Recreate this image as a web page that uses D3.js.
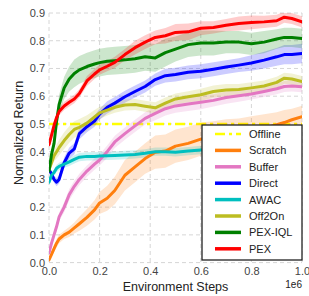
<!DOCTYPE html>
<html>
<head>
  <meta charset="utf-8">
  <title>normalized return</title>
  <script src="https://d3js.org/d3.v7.min.js"></script>
  <style>
    body { margin: 0; background: white; }
    svg { display: block; font-family: "Liberation Sans", Arial, sans-serif; }
    .grid line { stroke: #d6d6d6; stroke-width: 1; stroke-dasharray: 4,3; }
    .tick text { fill: #444; font-size: 11px; }
  </style>
</head>
<body>
<svg width="309" height="296"></svg>
<script>
// environment steps (x1e6)
var steps = [0, 0.01, 0.02, 0.03, 0.04, 0.06, 0.08, 0.1, 0.12, 0.15, 0.18, 0.2, 0.23, 0.26, 0.3,
  0.34, 0.38, 0.42, 0.46, 0.5, 0.55, 0.6, 0.65, 0.7, 0.75, 0.8, 0.85, 0.9, 0.93, 0.96, 1.0];

var offline = 0.5;

var scratch = [0.01, 0.03, 0.05, 0.07, 0.085, 0.1, 0.11, 0.125, 0.14, 0.163, 0.19, 0.215, 0.232, 0.26, 0.315,
  0.345, 0.375, 0.398, 0.402, 0.42, 0.43, 0.445, 0.455, 0.462, 0.47, 0.478, 0.485, 0.497, 0.505, 0.515, 0.526];
var scratchStd = [0.005, 0.01, 0.012, 0.015, 0.015, 0.015, 0.018, 0.02, 0.025, 0.03, 0.035, 0.04, 0.045, 0.05, 0.055,
  0.055, 0.055, 0.06, 0.06, 0.06, 0.06, 0.06, 0.055, 0.055, 0.05, 0.05, 0.05, 0.045, 0.045, 0.04, 0.04];

var buffer = [0.035, 0.07, 0.1, 0.13, 0.165, 0.2, 0.245, 0.275, 0.3, 0.33, 0.355, 0.37, 0.4, 0.435, 0.465,
  0.493, 0.52, 0.538, 0.555, 0.565, 0.572, 0.578, 0.585, 0.595, 0.602, 0.608, 0.617, 0.627, 0.635, 0.637, 0.634];
var bufferStd = [0.008, 0.01, 0.012, 0.015, 0.015, 0.018, 0.02, 0.02, 0.02, 0.02, 0.02, 0.02, 0.022, 0.022, 0.022,
  0.022, 0.022, 0.025, 0.025, 0.025, 0.025, 0.025, 0.022, 0.022, 0.022, 0.02, 0.02, 0.02, 0.02, 0.02, 0.02];

var direct = [0.335, 0.32, 0.3, 0.29, 0.3, 0.36, 0.395, 0.41, 0.465, 0.49, 0.51, 0.535, 0.56, 0.575, 0.598,
  0.617, 0.635, 0.66, 0.674, 0.678, 0.686, 0.69, 0.697, 0.705, 0.712, 0.72, 0.73, 0.742, 0.75, 0.75, 0.754];
var directStd = [0.01, 0.01, 0.012, 0.015, 0.015, 0.02, 0.02, 0.02, 0.02, 0.02, 0.02, 0.02, 0.022, 0.022, 0.022,
  0.022, 0.022, 0.022, 0.025, 0.025, 0.025, 0.025, 0.025, 0.025, 0.025, 0.028, 0.03, 0.032, 0.035, 0.035, 0.035];

var awac = [0.29, 0.315, 0.325, 0.34, 0.347, 0.355, 0.363, 0.372, 0.38, 0.383, 0.383, 0.384, 0.385, 0.386, 0.388,
  0.39, 0.394, 0.4, 0.4, 0.398, 0.402, 0.406, 0.41, 0.412, 0.415, 0.415, 0.418, 0.42, 0.42, 0.422, 0.42];
var awacStd = [0.01, 0.012, 0.012, 0.013, 0.013, 0.013, 0.015, 0.015, 0.015, 0.015, 0.015, 0.015, 0.015, 0.015, 0.015,
  0.015, 0.015, 0.015, 0.015, 0.015, 0.015, 0.015, 0.015, 0.015, 0.015, 0.015, 0.015, 0.015, 0.015, 0.015, 0.015];

var off2on = [0.335, 0.36, 0.385, 0.4, 0.415, 0.44, 0.462, 0.48, 0.488, 0.503, 0.525, 0.54, 0.55, 0.56, 0.568,
  0.57, 0.564, 0.558, 0.575, 0.59, 0.598, 0.605, 0.617, 0.622, 0.624, 0.63, 0.637, 0.65, 0.665, 0.662, 0.653];
var off2onStd = [0.01, 0.015, 0.02, 0.025, 0.028, 0.03, 0.03, 0.03, 0.03, 0.028, 0.025, 0.022, 0.02, 0.02, 0.02,
  0.02, 0.02, 0.02, 0.02, 0.02, 0.02, 0.022, 0.022, 0.022, 0.02, 0.02, 0.02, 0.02, 0.02, 0.02, 0.02];

var pexIql = [0.33, 0.39, 0.43, 0.51, 0.57, 0.63, 0.662, 0.682, 0.695, 0.707, 0.716, 0.721, 0.726, 0.728, 0.731,
  0.735, 0.742, 0.738, 0.757, 0.77, 0.786, 0.792, 0.792, 0.795, 0.795, 0.789, 0.795, 0.806, 0.812, 0.812, 0.808];
var pexIqlStd = [0.01, 0.015, 0.02, 0.03, 0.035, 0.04, 0.045, 0.05, 0.05, 0.05, 0.05, 0.05, 0.05, 0.05, 0.05,
  0.05, 0.05, 0.05, 0.05, 0.045, 0.045, 0.045, 0.045, 0.04, 0.04, 0.04, 0.04, 0.035, 0.035, 0.035, 0.035];

var pex = [0.425, 0.46, 0.495, 0.523, 0.545, 0.565, 0.578, 0.59, 0.61, 0.655, 0.68, 0.695, 0.708, 0.722, 0.75,
  0.775, 0.795, 0.812, 0.818, 0.83, 0.832, 0.845, 0.848, 0.856, 0.862, 0.866, 0.868, 0.872, 0.885, 0.88, 0.868];
var pexStd = [0.01, 0.012, 0.015, 0.015, 0.015, 0.015, 0.015, 0.015, 0.015, 0.018, 0.018, 0.018, 0.018, 0.02, 0.02,
  0.025, 0.025, 0.025, 0.028, 0.03, 0.03, 0.025, 0.022, 0.022, 0.025, 0.025, 0.022, 0.022, 0.02, 0.02, 0.02];

var names  = ["Scratch", "Buffer", "Direct", "AWAC", "Off2On", "PEX-IQL", "PEX"];
var colors = ["#ff7f0e", "#e377c2", "#0000ff", "#00bfbf", "#bcbd22", "#008000", "#ff0000"];
var means  = [scratch, buffer, direct, awac, off2on, pexIql, pex];
var stds   = [scratchStd, bufferStd, directStd, awacStd, off2onStd, pexIqlStd, pexStd];

var xTicks = [0, 0.2, 0.4, 0.6, 0.8, 1.0];
var yTicks = [0, 0.1, 0.2, 0.3, 0.4, 0.5, 0.6, 0.7, 0.8, 0.9];

var svg = d3.select("svg");
var L = 49, R = 302, T = 13, B = 262.6;

var x = d3.scaleLinear().domain([0, 1]).range([L, R]);
var y = d3.scaleLinear().domain([0, 0.9]).range([B, T]);

// dashed grid, no spines
svg.append("g").attr("class", "grid")
  .selectAll("line.v").data(xTicks).enter().append("line")
  .attr("x1", d => x(d)).attr("x2", d => x(d)).attr("y1", T).attr("y2", B);
svg.append("g").attr("class", "grid")
  .selectAll("line.h").data(yTicks).enter().append("line")
  .attr("x1", L).attr("x2", R).attr("y1", d => y(d)).attr("y2", d => y(d));

var xAxis = svg.append("g").attr("transform", "translate(0," + B + ")")
  .call(d3.axisBottom(x).tickValues(xTicks).tickFormat(d3.format(".1f")).tickSize(0).tickPadding(5));
var yAxis = svg.append("g").attr("transform", "translate(" + L + ",0)")
  .call(d3.axisLeft(y).tickValues(yTicks).tickFormat(d3.format(".1f")).tickSize(0).tickPadding(4));
xAxis.select(".domain").remove();
yAxis.select(".domain").remove();

svg.append("clipPath").attr("id", "clip").append("rect")
  .attr("x", L).attr("y", T).attr("width", R - L).attr("height", B - T);
var plot = svg.append("g").attr("clip-path", "url(#clip)");

var band = (m, s) => d3.area()
  .x((d, i) => x(steps[i]))
  .y0((d, i) => y(m[i] - s[i]))
  .y1((d, i) => y(m[i] + s[i]))(m);
var line = d3.line().x((d, i) => x(steps[i])).y(d => y(d));

plot.append("line")
  .attr("x1", x(0)).attr("x2", x(1)).attr("y1", y(offline)).attr("y2", y(offline))
  .attr("stroke", "#ffff00").attr("stroke-width", 2.5).attr("stroke-dasharray", "10,4,3,4");

means.forEach(function(m, k) {
  plot.append("path").attr("d", band(m, stds[k]))
    .attr("fill", colors[k]).attr("fill-opacity", 0.2).attr("stroke", "none");
});
means.forEach(function(m, k) {
  plot.append("path").attr("d", line(m))
    .attr("fill", "none").attr("stroke", colors[k]).attr("stroke-width", 3)
    .attr("stroke-linejoin", "round").attr("stroke-linecap", "round");
});

// axis labels
svg.append("text").attr("x", (L + R) / 2).attr("y", 291).attr("text-anchor", "middle")
  .attr("font-size", "12.5px").attr("fill", "#222").text("Environment Steps");
svg.append("text").attr("x", R).attr("y", 288).attr("text-anchor", "end")
  .attr("font-size", "10px").attr("fill", "#222").text("1e6");
svg.append("text").attr("transform", "translate(23,133) rotate(-90)").attr("text-anchor", "middle")
  .attr("font-size", "12.5px").attr("fill", "#222").text("Normalized Return");

// legend
var lg = svg.append("g");
lg.append("rect").attr("x", 202).attr("y", 125).attr("width", 100).attr("height", 135)
  .attr("fill", "white").attr("stroke", "#222").attr("stroke-width", 1.3);
var lgNames = ["Offline"].concat(names);
var lgColors = ["#ffff00"].concat(colors);
lgNames.forEach(function(n, i) {
  var cy = 134 + i * 16.4;
  lg.append("line").attr("x1", 215).attr("x2", 241).attr("y1", cy).attr("y2", cy)
    .attr("stroke", lgColors[i]).attr("stroke-width", i == 0 ? 2.5 : 3.5)
    .attr("stroke-dasharray", i == 0 ? "10,4,3,4" : null);
  lg.append("text").attr("x", 249).attr("y", cy + 4).attr("font-size", "11px")
    .attr("fill", "#222").text(n);
});
</script>
</body>
</html>
